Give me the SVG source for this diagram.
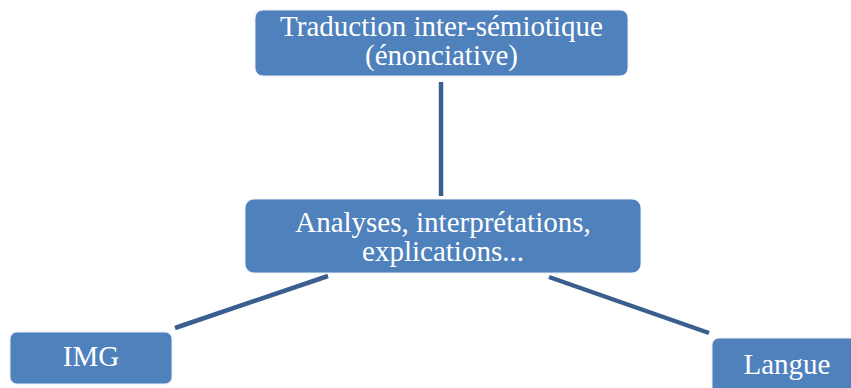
<svg xmlns="http://www.w3.org/2000/svg" width="851" height="388" viewBox="0 0 851 388">
<style>
.box{fill:#4F81BD;stroke:#E8EEF6;stroke-width:1}
.t{font-family:"Liberation Serif","Times New Roman",serif;font-size:29px;fill:#FFFFFF;text-anchor:middle}
.c{stroke:#3A5F8F;stroke-width:4.5;fill:none}
</style>
<rect width="851" height="388" fill="#FFFFFF"/>
<g id="connectors">
<line class="c" x1="441" y1="82" x2="441" y2="196"/>
<line class="c" x1="175" y1="328" x2="328" y2="276"/>
<line class="c" x1="549" y1="277" x2="709" y2="333"/>
</g>
<g id="top">
<rect class="box" x="255" y="10" width="373" height="66" rx="8"/>
<text class="t" x="441.5" y="36">Traduction inter-sémiotique</text>
<text class="t" x="441.5" y="65">(énonciative)</text>
</g>
<g id="middle">
<rect class="box" x="245" y="199" width="396" height="74" rx="9"/>
<text class="t" x="443" y="232">Analyses, interprétations,</text>
<text class="t" x="443" y="261">explications...</text>
</g>
<g id="img">
<rect class="box" x="10" y="332" width="162" height="52" rx="7"/>
<text class="t" x="91" y="366">IMG</text>
</g>
<g id="langue">
<rect class="box" x="712" y="338" width="150" height="60" rx="7"/>
<text class="t" x="787" y="374">Langue</text>
</g>
</svg>
